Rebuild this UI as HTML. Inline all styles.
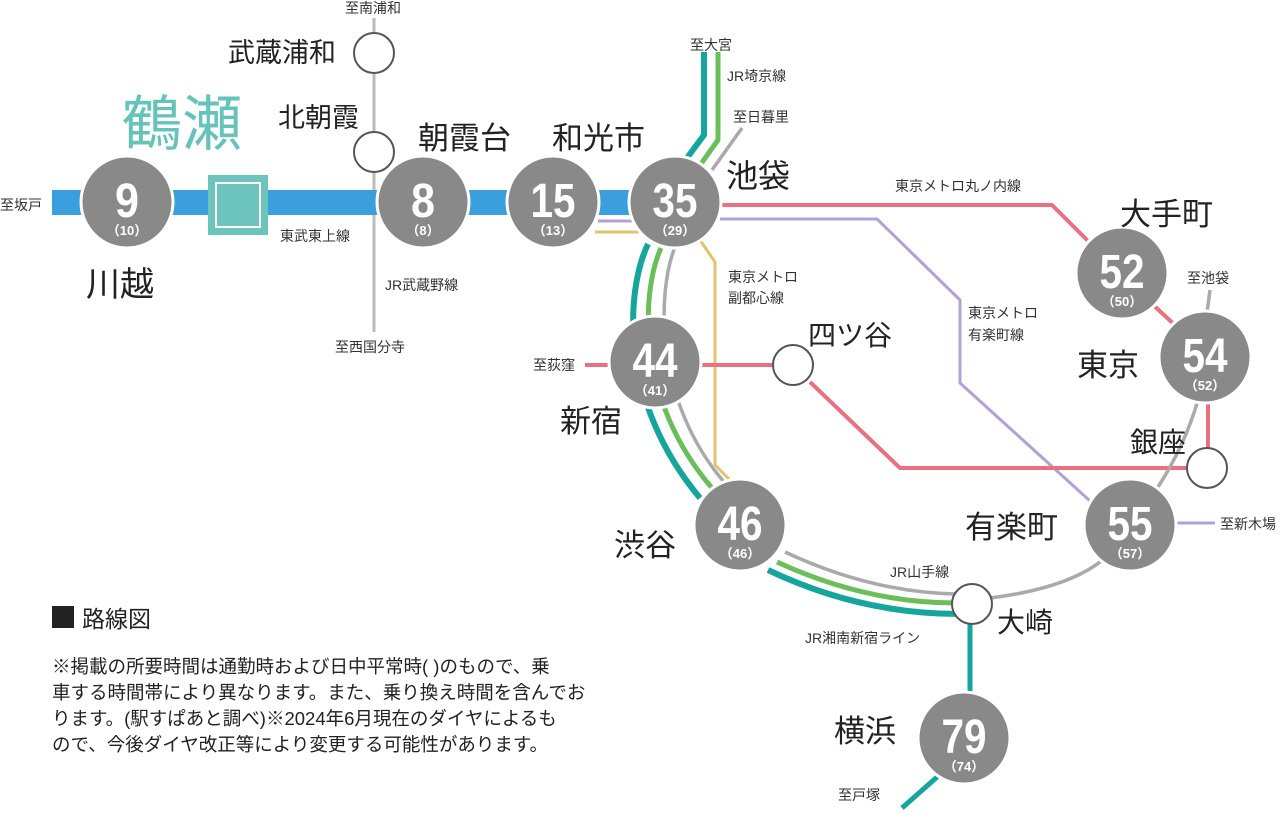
<!DOCTYPE html>
<html><head><meta charset="utf-8"><style>
html,body{margin:0;padding:0;background:#fff;}
svg text{font-family:"Liberation Sans","Noto Sans CJK JP",sans-serif;}
.s{font-size:14px;fill:#333;}
.b{fill:#222;}
.n{font-family:"Liberation Sans",sans-serif;font-weight:bold;fill:#fff;text-anchor:middle;}
.p{font-weight:bold;fill:#fff;text-anchor:middle;font-size:13px;}
</style></head><body>
<svg width="1280" height="814" viewBox="0 0 1280 814" xmlns="http://www.w3.org/2000/svg">
<g fill="none" stroke-linejoin="round">
<line x1="374" y1="18" x2="374" y2="332" stroke="#bbb" stroke-width="3"/>
<rect x="52" y="190" width="578" height="25" fill="#3a9fdc" stroke="none"/>
<path d="M595,232 H640" stroke="#e2c46e" stroke-width="3"/>
<path d="M700,240 L715,262 V465 L740,490" stroke="#e2c46e" stroke-width="3"/>
<path d="M598,221 H632" stroke="#b3a0d4" stroke-width="3"/>
<path d="M720,219 H877 L960,300 V383 L1100,510" stroke="#b3a0d4" stroke-width="3"/>
<path d="M1175,523 H1215" stroke="#b3a0d4" stroke-width="3"/>
<path d="M722,205 H1052 L1092,245" stroke="#e8707f" stroke-width="4"/>
<path d="M1150,302 L1178,328" stroke="#e8707f" stroke-width="4"/>
<path d="M1208,400 V450" stroke="#e8707f" stroke-width="4"/>
<path d="M1187,468 H900 L810,382" stroke="#e8707f" stroke-width="4"/>
<path d="M773,365 H700" stroke="#e8707f" stroke-width="4"/>
<path d="M612,365 H585" stroke="#e8707f" stroke-width="4"/>
<path d="M704,52 V135 L684,162" stroke="#16a59c" stroke-width="6"/>
<path d="M648,244 C626,290 618,400 700,498" stroke="#16a59c" stroke-width="6"/>
<path d="M768,570 Q860,614 960,614" stroke="#16a59c" stroke-width="6"/>
<path d="M970,620 V700" stroke="#16a59c" stroke-width="5"/>
<path d="M945,770 L902,808" stroke="#16a59c" stroke-width="5"/>
<path d="M718,52 V140 L698,168" stroke="#6bbf5a" stroke-width="5"/>
<path d="M661,248 C641,292 636,400 712,488" stroke="#6bbf5a" stroke-width="5"/>
<path d="M777,562 Q866,603 956,603" stroke="#6bbf5a" stroke-width="5"/>
<path d="M742,128 L712,170" stroke="#aaa" stroke-width="3.5"/>
<path d="M675,247 C657,292 654,400 724,482" stroke="#aaa" stroke-width="3.5"/>
<path d="M785,552 Q870,592 955,594" stroke="#aaa" stroke-width="3.5"/>
<path d="M990,598 Q1070,588 1105,558" stroke="#aaa" stroke-width="3.5"/>
<path d="M1158,487 Q1185,445 1198,400" stroke="#aaa" stroke-width="3.5"/>
<path d="M1207,313 L1210,290" stroke="#aaa" stroke-width="3.5"/>
</g>
<rect x="208" y="175" width="60" height="60" fill="#6cc4bc"/>
<rect x="216" y="183" width="44" height="44" fill="#6cc4bc" stroke="#fff" stroke-width="2"/>
<g fill="#fff" stroke="#555" stroke-width="2">
<circle cx="374" cy="53" r="20"/><circle cx="374" cy="152" r="20"/>
<circle cx="793" cy="365" r="20"/><circle cx="1207" cy="468" r="20"/><circle cx="972" cy="604" r="20"/>
</g>
<g fill="#898989" stroke="#fff" stroke-width="3">
<circle cx="127" cy="202" r="46"/><circle cx="423" cy="202" r="46"/><circle cx="553" cy="202" r="46"/>
<circle cx="675" cy="202" r="46"/><circle cx="655" cy="362" r="46"/><circle cx="740" cy="525" r="46"/>
<circle cx="1122" cy="273" r="46"/><circle cx="1205" cy="357" r="46"/><circle cx="1130" cy="525" r="46"/>
<circle cx="964" cy="738" r="46"/>
</g>
<g class="n" font-size="48">
<text x="127" y="217" textLength="24" lengthAdjust="spacingAndGlyphs">9</text>
<text x="423" y="217" textLength="24" lengthAdjust="spacingAndGlyphs">8</text>
<text x="553" y="217" textLength="45" lengthAdjust="spacingAndGlyphs">15</text>
<text x="675" y="217" textLength="45" lengthAdjust="spacingAndGlyphs">35</text>
<text x="655" y="377" textLength="45" lengthAdjust="spacingAndGlyphs">44</text>
<text x="740" y="540" textLength="45" lengthAdjust="spacingAndGlyphs">46</text>
<text x="1122" y="288" textLength="45" lengthAdjust="spacingAndGlyphs">52</text>
<text x="1205" y="372" textLength="45" lengthAdjust="spacingAndGlyphs">54</text>
<text x="1130" y="540" textLength="45" lengthAdjust="spacingAndGlyphs">55</text>
<text x="964" y="753" textLength="45" lengthAdjust="spacingAndGlyphs">79</text>
</g>
<g class="p">
<text x="127" y="235">（10）</text><text x="423" y="235">（8）</text><text x="553" y="235">（13）</text>
<text x="675" y="235">（29）</text><text x="655" y="395">（41）</text><text x="740" y="558">（46）</text>
<text x="1122" y="306">（50）</text><text x="1205" y="390">（52）</text><text x="1130" y="558">（57）</text>
<text x="964" y="771">（74）</text>
</g>
<text x="122" y="145" font-size="60" fill="#66c3ba">鶴瀬</text>
<g class="b">
<text x="86" y="296" font-size="34">川越</text>
<text x="228" y="62" font-size="27">武蔵浦和</text>
<text x="278" y="127" font-size="27">北朝霞</text>
<text x="418" y="149" font-size="31">朝霞台</text>
<text x="552" y="149" font-size="31">和光市</text>
<text x="726" y="187" font-size="32">池袋</text>
<text x="1120" y="225" font-size="31">大手町</text>
<text x="1077" y="376" font-size="31">東京</text>
<text x="1130" y="452" font-size="28">銀座</text>
<text x="965" y="538" font-size="31">有楽町</text>
<text x="808" y="345" font-size="28">四ツ谷</text>
<text x="560" y="432" font-size="31">新宿</text>
<text x="614" y="556" font-size="31">渋谷</text>
<text x="997" y="632" font-size="28">大崎</text>
<text x="834" y="742" font-size="31">横浜</text>
</g>
<g class="s">
<text x="345" y="13">至南浦和</text>
<text x="0" y="210">至坂戸</text>
<text x="280" y="241">東武東上線</text>
<text x="385" y="290">JR武蔵野線</text>
<text x="335" y="352">至西国分寺</text>
<text x="690" y="50">至大宮</text>
<text x="727" y="81">JR埼京線</text>
<text x="733" y="122">至日暮里</text>
<text x="895" y="191">東京メトロ丸ノ内線</text>
<text x="728" y="282">東京メトロ</text>
<text x="728" y="303">副都心線</text>
<text x="968" y="318">東京メトロ</text>
<text x="968" y="340">有楽町線</text>
<text x="533" y="370">至荻窪</text>
<text x="1187" y="283">至池袋</text>
<text x="1220" y="529">至新木場</text>
<text x="890" y="577">JR山手線</text>
<text x="805" y="643">JR湘南新宿ライン</text>
<text x="838" y="800">至戸塚</text>
</g>
<rect x="52" y="606" width="22" height="22" fill="#222"/>
<text x="82" y="627" font-size="23" class="b">路線図</text>
<g font-size="18.5" class="b">
<text x="52" y="673">※掲載の所要時間は通勤時および日中平常時( )のもので、乗</text>
<text x="52" y="699">車する時間帯により異なります。また、乗り換え時間を含んでお</text>
<text x="52" y="725">ります。(駅すぱあと調べ)※2024年6月現在のダイヤによるも</text>
<text x="52" y="751">ので、今後ダイヤ改正等により変更する可能性があります。</text>
</g>
</svg>
</body></html>
